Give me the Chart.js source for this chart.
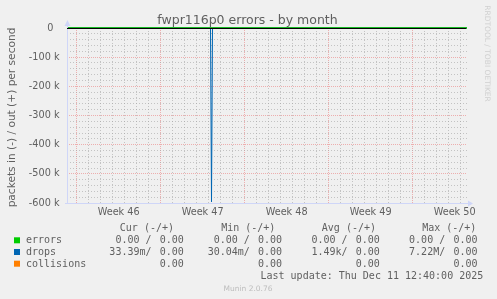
<!DOCTYPE html>
<html>
<head>
<meta charset="utf-8">
<script src="https://cdn.jsdelivr.net/npm/chart.js@4.4.0/dist/chart.umd.min.js"></script>
<style>
html,body{margin:0;padding:0;background:#f0f0f0;overflow:hidden}
canvas{display:block}
</style>
</head>
<body>
<canvas id="c" width="497" height="299"></canvas>
<script>
// ---- data (x = hours since Sun 2 Nov 2025 00:00) ----
const rangeStartHour = 148.67;           // ~ Sat 8 Nov 04:40
const rangeEndHour = 948.67;             // Thu 11 Dec 12:40
const weekStartHours = [168, 336, 504, 672, 840];
const weekLabels = ['Week 46', 'Week 47', 'Week 48', 'Week 49', 'Week 50'];
const yTickValues = [0, -100000, -200000, -300000, -400000, -500000, -600000];
const yTickLabels = ['0', '-100 k', '-200 k', '-300 k', '-400 k', '-500 k', '-600 k'];

const errorsInHours = [148.67, 948.67];
const errorsInValues = [0, 0];
const errorsOutHours = [148.67, 948.67];
const errorsOutValues = [0, 0];
const dropsInHours = [148.67, 435.7, 437.7, 439.7, 948.67];
const dropsInValues = [-0.0334, -0.0300, -596000, -0.0300, -0.0334];
const dropsOutHours = [148.67, 948.67];
const dropsOutValues = [0, 0];
const collisionsHours = [148.67, 948.67];
const collisionsValues = [0, 0];

const legendNames = ['errors', 'drops', 'collisions'];
const legendColors = ['#00cc00', '#0066b3', '#ff8000'];
const legendHeaders = ['Cur (-/+)', 'Min (-/+)', 'Avg (-/+)', 'Max (-/+)'];
const curIn = ['0.00', '33.39m', null];
const curOut = ['0.00', '0.00', '0.00'];
const minIn = ['0.00', '30.04m', null];
const minOut = ['0.00', '0.00', '0.00'];
const avgIn = ['0.00', '1.49k', null];
const avgOut = ['0.00', '0.00', '0.00'];
const maxIn = ['0.00', '7.22M', null];
const maxOut = ['0.00', '0.00', '0.00'];
const titleText = 'fwpr116p0 errors - by month';
const yTitleText = 'packets in (-) / out (+) per second';
const lastUpdateText = 'Last update: Thu Dec 11 12:40:00 2025';
const versionText = 'Munin 2.0.76';
const watermarkText = 'RRDTOOL / TOBI OETIKER';

// ---- helpers ----
const pts = (xs, ys) => xs.map((x, i) => ({x: x, y: ys[i]}));
const FONT = 'DejaVu Sans';
const MONO = 'DejaVu Sans Mono';
const TXT = '#606060';
const AXIS = '#cfd6f8';
const MGRID = 'rgba(235,120,120,0.55)';
const GRID = 'rgba(165,165,165,0.6)';

const dayHours = [];
for (let h = Math.ceil(rangeStartHour / 24) * 24; h <= rangeEndHour; h += 24) {
  if (!weekStartHours.includes(h)) dayHours.push(h);
}
const minorYValues = [];
for (let v = -580000; v < 0; v += 20000) {
  if (v % 100000 !== 0) minorYValues.push(v);
}

function lineDs(label, color, xs, ys) {
  return {label, data: pts(xs, ys), borderColor: color, backgroundColor: color,
    borderWidth: 1, pointRadius: 0, tension: 0, fill: false, clip: false};
}

const muninPlugin = {
  id: 'munin',
  beforeDraw(chart) {
    const ctx = chart.ctx;
    ctx.save();
    ctx.fillStyle = '#f0f0f0';
    ctx.fillRect(0, 0, chart.width, chart.height);
    ctx.restore();
  },
  afterDatasetsDraw(chart) {
    const ctx = chart.ctx, a = chart.chartArea;
    const y0 = chart.scales.y.getPixelForValue(0);
    ctx.save();
    // axes
    ctx.strokeStyle = AXIS; ctx.lineWidth = 1;
    ctx.beginPath();
    ctx.moveTo(a.left + 0.5, a.bottom + 1); ctx.lineTo(a.left + 0.5, a.top - 4);
    ctx.moveTo(a.left - 2, a.bottom + 0.5); ctx.lineTo(a.right + 3, a.bottom + 0.5);
    ctx.stroke();
    ctx.fillStyle = AXIS;
    ctx.beginPath();
    ctx.moveTo(a.left + 0.5, a.top - 8); ctx.lineTo(a.left - 2.5, a.top - 2); ctx.lineTo(a.left + 3.5, a.top - 2);
    ctx.closePath(); ctx.fill();
    ctx.beginPath();
    ctx.moveTo(a.right + 6, a.bottom + 0.5); ctx.lineTo(a.right + 1, a.bottom - 2.5); ctx.lineTo(a.right + 1, a.bottom + 3.5);
    ctx.closePath(); ctx.fill();
    // zero rule
    ctx.strokeStyle = '#000000';
    ctx.beginPath();
    ctx.moveTo(a.left, y0 + 0.5); ctx.lineTo(a.right - 1, y0 + 0.5);
    ctx.stroke();
    ctx.restore();
  },
  afterDraw(chart) {
    const ctx = chart.ctx, a = chart.chartArea;
    ctx.save();
    ctx.fillStyle = TXT;
    // title
    ctx.font = '12.5px "' + FONT + '"';
    ctx.textAlign = 'center'; ctx.textBaseline = 'alphabetic';
    ctx.fillText(titleText, 247.5, 23.7);
    // y title
    ctx.save();
    ctx.translate(14.5, (a.top + a.bottom) / 2 + 2);
    ctx.rotate(-Math.PI / 2);
    ctx.font = '10.6px "' + FONT + '"';
    ctx.fillText(yTitleText, 0, 0);
    ctx.restore();
    // watermark
    ctx.save();
    ctx.fillStyle = '#d0d0d0';
    ctx.translate(485, 53.5);
    ctx.rotate(Math.PI / 2);
    ctx.font = '7.5px "' + FONT + '"';
    ctx.fillText(watermarkText, 0, 0);
    ctx.restore();
    // version
    ctx.fillStyle = '#bdbdbd';
    ctx.font = '7.5px "' + FONT + '"';
    ctx.fillText(versionText, 248, 290.7);
    // legend
    ctx.fillStyle = TXT;
    ctx.font = '10px "' + MONO + '"';
    ctx.textAlign = 'left';
    const headX = [119.8, 221.2, 321.8, 422.2];
    legendHeaders.forEach((h, i) => ctx.fillText(h, headX[i], 231));
    const rowY = [243.3, 255, 266.7];
    const colOff = [0, 98.3, 196, 293.7];
    const cols = [[curIn, curOut], [minIn, minOut], [avgIn, avgOut], [maxIn, maxOut]];
    legendNames.forEach((n, r) => {
      ctx.fillStyle = legendColors[r];
      ctx.fillRect(14, rowY[r] - 6, 6, 6);
      ctx.fillStyle = TXT;
      ctx.textAlign = 'left';
      ctx.fillText(n, 26, rowY[r]);
      ctx.textAlign = 'right';
      cols.forEach((c, ci) => {
        const vin = c[0][r], vout = c[1][r];
        if (vin !== null) {
          const s = vin + (/[a-zA-Z]$/.test(vin) ? '' : ' ') + '/';
          ctx.fillText(s, 151.5 + colOff[ci], rowY[r]);
        }
        ctx.fillText(vout, 183.8 + colOff[ci], rowY[r]);
      });
    });
    ctx.textAlign = 'left';
    ctx.fillText(lastUpdateText, 260.5, 279);
    ctx.restore();
  }
};

new Chart(document.getElementById('c'), {
  type: 'line',
  data: {
    datasets: [
      lineDs('errors in', legendColors[0], errorsInHours, errorsInValues),
      lineDs('errors out', legendColors[0], errorsOutHours, errorsOutValues),
      lineDs('drops out', legendColors[1], dropsOutHours, dropsOutValues),
      lineDs('collisions', legendColors[2], collisionsHours, collisionsValues),
      lineDs('drops in', legendColors[1], dropsInHours, dropsInValues),
    ]
  },
  options: {
    responsive: false,
    animation: false,
    devicePixelRatio: 1,
    layout: {padding: {top: 28, right: 30, left: 0, bottom: 0}},
    plugins: {legend: {display: false}, tooltip: {enabled: false}, title: {display: false}},
    scales: {
      x: {
        type: 'linear', position: 'bottom', min: rangeStartHour, max: rangeEndHour,
        afterFit(s) { s.height = 96; },
        afterBuildTicks(s) { s.ticks = weekStartHours.map(h => ({value: h + 84})); },
        grid: {display: false, drawTicks: false},
        border: {display: false},
        ticks: {
          autoSkip: false, maxRotation: 0, minRotation: 0, padding: 4,
          color: TXT, font: {family: FONT, size: 9.7},
          callback: (v, i) => weekLabels[i]
        }
      },
      xMajor: {
        type: 'linear', position: 'bottom', min: rangeStartHour, max: rangeEndHour,
        afterFit(s) { s.height = 0; },
        afterBuildTicks(s) { s.ticks = weekStartHours.map(h => ({value: h})); },
        grid: {color: MGRID, lineWidth: 1, drawTicks: false},
        border: {display: false, dash: [1, 1]},
        ticks: {display: false}
      },
      xMinor: {
        type: 'linear', position: 'bottom', min: rangeStartHour, max: rangeEndHour,
        afterFit(s) { s.height = 0; },
        afterBuildTicks(s) { s.ticks = dayHours.map(h => ({value: h})); },
        grid: {color: GRID, lineWidth: 1, drawTicks: false},
        border: {display: false, dash: [1, 2]},
        ticks: {display: false}
      },
      y: {
        type: 'linear', position: 'left', min: -600000, max: 0,
        afterFit(s) { s.width = 67; },
        afterBuildTicks(s) { s.ticks = yTickValues.map(v => ({value: v})); },
        grid: {color: (c) => c.tick && c.tick.value === 0 ? 'rgba(0,0,0,0)' : MGRID, lineWidth: 1, drawTicks: false},
        border: {display: false, dash: [1, 1]},
        ticks: {
          padding: 7.5, color: TXT, font: {family: FONT, size: 9.7},
          callback: (v, i) => yTickLabels[i] === '0' ? '0  ' : yTickLabels[i]
        }
      },
      yMinor: {
        type: 'linear', position: 'left', min: -600000, max: 0,
        afterFit(s) { s.width = 0; },
        afterBuildTicks(s) { s.ticks = minorYValues.map(v => ({value: v})); },
        grid: {color: GRID, lineWidth: 1, drawTicks: false},
        border: {display: false, dash: [1, 2]},
        ticks: {display: false}
      }
    }
  },
  plugins: [muninPlugin]
});
</script>
</body>
</html>
